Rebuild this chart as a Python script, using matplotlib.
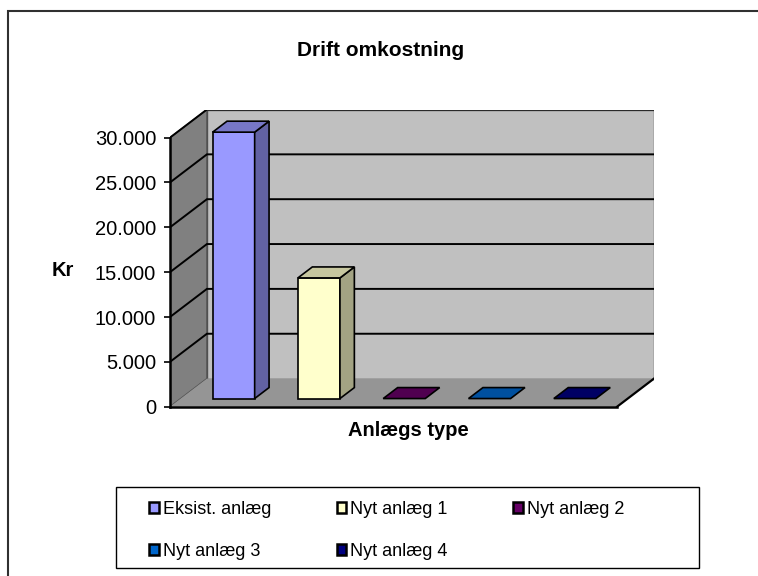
import matplotlib
matplotlib.use("Agg")
import matplotlib.pyplot as plt
from matplotlib.patches import Polygon, Rectangle, Patch
from matplotlib.ticker import FuncFormatter

plt.rcParams['font.family'] = ['Liberation Sans', 'DejaVu Sans']

# data
series = ['Eksist. anlæg', 'Nyt anlæg 1', 'Nyt anlæg 2', 'Nyt anlæg 3', 'Nyt anlæg 4']
values = [29700, 13450, 0, 0, 0]
colors = ['#9999FF', '#FFFFCC', '#660066', '#0066CC', '#000080']
y_max = 30000
y_step = 5000

# 3d-look geometry (data units)
W = 5.0            # floor width
DX = 0.413         # depth offset in x
DY = 3134          # depth offset in y
bar_w = 0.47
bar_step = 0.954
bar_start = (W - (4 * bar_step + bar_w)) / 2
f0, f1 = 0.29, 0.68   # bar depth range (fraction of floor depth)


def shade(c, k):
    r, g, b = matplotlib.colors.to_rgb(c)
    return (r * k, g * k, b * k)


fig = plt.figure(figsize=(7.58, 5.76), dpi=100)
fw, fh = 758, 576
# plot area: front-left at x=170, back-right at x=654, 0 at y=406.7, top at y=109.5
ax = fig.add_axes([170 / fw, 1 - 406.7 / fh, (654 - 170) / fw, (406.7 - 109.5) / fh])
ax.set_xlim(0, W + DX)
ax.set_ylim(0, y_max + DY)
ax.patch.set_visible(False)

# walls and floor
ax.add_patch(Polygon([(DX, DY), (W + DX, DY), (W + DX, y_max + DY), (DX, y_max + DY)],
                     closed=True, facecolor='#C0C0C0', edgecolor='#505050', lw=1, zorder=1))
ax.add_patch(Polygon([(0, 0), (DX, DY), (DX, y_max + DY), (0, y_max)],
                     closed=True, facecolor='#808080', edgecolor='#505050', lw=1, zorder=1))
ax.add_patch(Polygon([(0, 0), (W, 0), (W + DX, DY), (DX, DY)],
                     closed=True, facecolor='#959595', edgecolor='none', zorder=1))

# gridlines on side and back wall
for v in range(y_step, y_max + 1, y_step):
    ax.plot([0, DX, W + DX], [v, v + DY, v + DY], color='black', lw=1.4, zorder=2,
            solid_joinstyle='miter')

# floor right edge
ax.plot([W, W + DX], [0, DY], color='black', lw=1.6, zorder=3)

# bars
for i, (val, col) in enumerate(zip(values, colors)):
    x0 = bar_start + i * bar_step + f0 * DX
    y0 = f0 * DY
    ddx = (f1 - f0) * DX
    ddy = (f1 - f0) * DY
    front = [(x0, y0), (x0 + bar_w, y0), (x0 + bar_w, y0 + val), (x0, y0 + val)]
    side = [(x0 + bar_w, y0), (x0 + bar_w + ddx, y0 + ddy),
            (x0 + bar_w + ddx, y0 + val + ddy), (x0 + bar_w, y0 + val)]
    top = [(x0, y0 + val), (x0 + bar_w, y0 + val),
           (x0 + bar_w + ddx, y0 + val + ddy), (x0 + ddx, y0 + val + ddy)]
    if val > 0:
        ax.add_patch(Polygon(front, closed=True, facecolor=col, edgecolor='black', lw=1.2, zorder=4))
        ax.add_patch(Polygon(side, closed=True, facecolor=shade(col, 0.64), edgecolor='black', lw=1.2, zorder=4))
    ax.add_patch(Polygon(top, closed=True, facecolor=shade(col, 0.78), edgecolor='black', lw=1.2, zorder=4))

# axes styling
for s in ['top', 'right']:
    ax.spines[s].set_visible(False)
ax.spines['left'].set_bounds(0, y_max)
ax.spines['bottom'].set_bounds(0, W)
ax.spines['left'].set_linewidth(1.8)
ax.spines['bottom'].set_linewidth(1.8)
ax.spines['left'].set_zorder(5)
ax.spines['bottom'].set_zorder(5)
ax.set_xticks([])
ax.set_yticks(range(0, y_max + 1, y_step))
ax.yaxis.set_major_formatter(FuncFormatter(lambda v, _: f"{int(v):,}".replace(",", ".")))
ax.tick_params(axis='y', direction='out', length=4, width=1.2, pad=6, labelsize=14.5)

# texts
fig.text(381 / fw, 1 - 50 / fh, 'Drift omkostning', ha='center', va='center',
         fontsize=15, fontweight='bold')
fig.text(63 / fw, 1 - 271 / fh, 'Kr', ha='center', va='center', fontsize=14.5, fontweight='bold')
fig.text(408 / fw, 1 - 430 / fh, 'Anlægs type', ha='center', va='center',
         fontsize=14.5, fontweight='bold')

# outer chart frame
fig.add_artist(Rectangle((8 / fw, -0.1), 1.2, 1.1 - 11 / fh, transform=fig.transFigure,
                         facecolor='none', edgecolor='#303030', lw=1.5))

# legend
handles = [Patch(facecolor=c, edgecolor='black', lw=1.8) for c in colors]
order = [0, 3, 1, 4, 2]
fig.add_artist(Rectangle((116 / fw, 1 - 568 / fh), (699 - 116) / fw, (568 - 487) / fh,
                         transform=fig.transFigure, facecolor='white', edgecolor='black', lw=1))
fig.legend([handles[k] for k in order], [series[k] for k in order], ncol=3,
           loc='upper left', bbox_to_anchor=(149 / fw, 1 - 501 / fh, (624 - 149) / fw, 0),
           mode='expand', frameon=False, borderpad=0, borderaxespad=0,
           handlelength=0.55, handleheight=0.55, handletextpad=0.2,
           labelspacing=1.4, fontsize=13)

fig.savefig('out.png', dpi=100)
